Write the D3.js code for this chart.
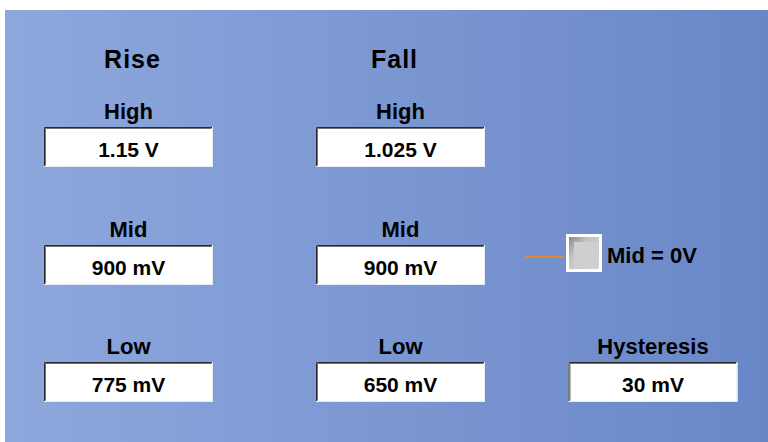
<!DOCTYPE html>
<html><head><meta charset="utf-8">
<script src="https://cdn.jsdelivr.net/npm/d3@7"></script>
<style>html,body{margin:0;padding:0;background:#fff;overflow:hidden}svg{display:block}</style>
</head><body>
<svg id="c" width="768" height="442"></svg>
<script>
const columns = ["Rise", "Fall"];
const rowLabels = ["High", "Mid", "Low"];
const riseValues = ["1.15 V", "900 mV", "775 mV"];
const fallValues = ["1.025 V", "900 mV", "650 mV"];
const checkboxLabel = ["Mid = 0V"];
const hysteresisLabel = ["Hysteresis"];
const hysteresisValue = ["30 mV"];

const svg = d3.select("#c");
const W = 768, H = 442;
const defs = svg.append("defs");
const bg = defs.append("linearGradient").attr("id","bg").attr("x1","0").attr("x2","1").attr("y1","0").attr("y2","0");
bg.append("stop").attr("offset","0").attr("stop-color","#8ea8dd");
bg.append("stop").attr("offset","1").attr("stop-color","#6987c7");
const cb = defs.append("linearGradient").attr("id","cb").attr("x1","0").attr("x2","1").attr("y1","0").attr("y2","1");
cb.append("stop").attr("offset","0").attr("stop-color","#8a8a8a");
cb.append("stop").attr("offset","0.35").attr("stop-color","#c4c4c4");
cb.append("stop").attr("offset","1").attr("stop-color","#d4d4d4");

svg.append("rect").attr("x",5).attr("y",10).attr("width",W-5).attr("height",H-10).attr("fill","url(#bg)");

const font = "'Liberation Sans', Arial, sans-serif";

// column scale (box centers) and row scale (box tops)
const x = d3.scaleOrdinal().domain(columns.concat(["Extra"])).range([128.5, 400.5, 653]);
const y = d3.scaleOrdinal().domain(rowLabels).range([127, 245, 362]);
const boxW = 169, boxH = 40;

function drawBox(cx, top, label, value) {
  const g = svg.append("g");
  g.append("text").attr("x", cx).attr("y", top - 8).attr("text-anchor","middle")
    .attr("font-family", font).attr("font-weight","bold").attr("font-size",22).attr("fill","#000").text(label);
  const l = cx - boxW/2;
  g.append("rect").attr("x", l).attr("y", top).attr("width", boxW).attr("height", boxH).attr("fill","#fff");
  // sunken border
  g.append("path").attr("d", `M${l+0.5},${top+boxH-1}V${top+0.5}H${l+boxW-1}`).attr("stroke","#2a2a2a").attr("stroke-width",1).attr("fill","none");
  g.append("path").attr("d", `M${l+1.5},${top+boxH-1.5}V${top+1.5}H${l+boxW-1.5}`).attr("stroke","#707070").attr("stroke-width",1).attr("fill","none");
  g.append("path").attr("d", `M${l+0.5},${top+boxH-0.5}H${l+boxW-0.5}V${top+0.5}`).attr("stroke","#e8ecf4").attr("stroke-width",1).attr("fill","none");
  g.append("text").attr("x", cx).attr("y", top + 30).attr("text-anchor","middle")
    .attr("font-family", font).attr("font-weight","bold").attr("font-size",21).attr("fill","#000").text(value);
}

// headers
svg.selectAll("text.hdr").data(columns).join("text").attr("class","hdr")
  .attr("x", d => x(d) + (d==="Fall" ? -6 : 4)).attr("y", 68).attr("text-anchor","middle")
  .attr("font-family", font).attr("font-weight","bold").attr("font-size",25).attr("letter-spacing",1).attr("fill","#000").text(d => d);

rowLabels.forEach((r, i) => {
  drawBox(x("Rise"), y(r), r, riseValues[i]);
  drawBox(x("Fall"), y(r), r, fallValues[i]);
});

// hysteresis
drawBox(x("Extra"), y("Low"), hysteresisLabel[0], hysteresisValue[0]);

// checkbox
const cTop = 234;
svg.append("line").attr("x1",525).attr("x2",564).attr("y1",257).attr("y2",257).attr("stroke","#e08a2a").attr("stroke-width",2);
svg.append("rect").attr("x",566).attr("y",cTop).attr("width",36).attr("height",38).attr("fill","#fff");
svg.append("rect").attr("x",569).attr("y",cTop+3).attr("width",30).attr("height",32).attr("fill","url(#cb)");
svg.append("rect").attr("x",574).attr("y",cTop+8).attr("width",24).attr("height",26).attr("fill","#cfcfcf");
svg.append("text").attr("x",607).attr("y",263).attr("font-family",font).attr("font-weight","bold").attr("font-size",22).attr("fill","#000").text(checkboxLabel[0]);
</script>
</body></html>
